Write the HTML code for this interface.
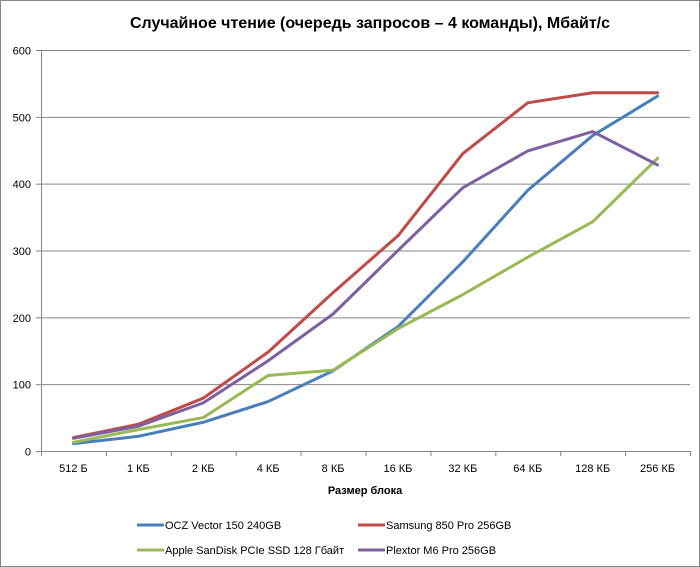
<!DOCTYPE html>
<html><head><meta charset="utf-8"><style>
body{margin:0;background:#fff;}
svg{display:block;font-family:"Liberation Sans","DejaVu Sans",sans-serif;}
</style></head><body>
<svg id="chart" width="700" height="567">
<rect x="0.5" y="0.5" width="699" height="566" fill="#fff" stroke="#868686"/>
<text x="370" y="28" text-anchor="middle" font-size="16" font-weight="bold" fill="#000">Случайное чтение (очередь запросов – 4 команды), Мбайт/с</text>
<g id="grid"></g><g id="axes"></g><g id="series"></g>
<text x="365" y="494" text-anchor="middle" font-size="11" font-weight="bold">Размер блока</text>
<g id="legend"></g>
</svg>
<script>
const categories=["512 Б","1 КБ","2 КБ","4 КБ","8 КБ","16 КБ","32 КБ","64 КБ","128 КБ","256 КБ"];
const yTicks=[0,100,200,300,400,500,600];
const ocz=[11,22,43,74,120,186,283,390,472,531];
const samsung=[20,40,79,148,237,322,445,521,536,536];
const apple=[13,32,50,113,121,183,234,290,343,438];
const plextor=[19,37,72,135,205,300,394,449,478,428];
const seriesNames=["OCZ Vector 150 240GB","Samsung 850 Pro 256GB","Apple SanDisk PCIe SSD 128 Гбайт","Plextor M6 Pro 256GB"];
const seriesColors=["#4a7ebb","#be4b48","#98b954","#7d60a0"];
const NS="http://www.w3.org/2000/svg";
const L=41,R=690,T=50,B=451,yMax=600;
const step=(R-L)/categories.length;
const xs=i=>L+step*(i+0.5);
const ys=v=>B-(v/yMax)*(B-T);
function mk(tag,attrs,parent){const e=document.createElementNS(NS,tag);for(const k in attrs)e.setAttribute(k,attrs[k]);parent.appendChild(e);return e;}
const grid=document.getElementById('grid'),axes=document.getElementById('axes'),ser=document.getElementById('series'),leg=document.getElementById('legend');
yTicks.forEach(v=>{
  const y=ys(v)+0.5;
  if(v>0){const g=mk('line',{x1:L,x2:R,y1:y,y2:y,stroke:'#868686','stroke-width':1},grid);
  
  }
  const t=mk('line',{x1:L-5,x2:L,y1:y,y2:y,stroke:'#868686'},axes);
  
  
  const tx=mk('text',{x:L-10,y:y+4,'text-anchor':'end','font-size':11},axes);
  tx.textContent=v;
  
  
});
const ya=mk('line',{x1:L+0.5,x2:L+0.5,y1:T,y2:B,stroke:'#868686'},axes);


const xa=mk('line',{x1:L,x2:R,y1:B+0.5,y2:B+0.5,stroke:'#868686'},axes);


for(let i=0;i<=categories.length;i++){
  const x=L+step*i+0.5;
  const t=mk('line',{x1:x,x2:x,y1:B,y2:B+5,stroke:'#868686'},axes);
  
  
}
categories.forEach((c,i)=>{
  const t=mk('text',{x:xs(i),y:B+21,'text-anchor':'middle','font-size':11},axes);
  t.textContent=c;
  
  
});
[ocz,samsung,apple,plextor].forEach((d,si)=>{
  const p=mk('polyline',{points:d.map((v,i)=>xs(i)+','+ys(v)).join(' '),fill:'none',stroke:seriesColors[si],'stroke-width':3,'stroke-linejoin':'round','stroke-linecap':'round'},ser);
  
  
});
const lp=[[137,525],[358,525],[137,550],[358,550]];
seriesNames.forEach((n,i)=>{
  const g=mk('g',{},leg);
  
  
  mk('line',{x1:lp[i][0],x2:lp[i][0]+27,y1:lp[i][1],y2:lp[i][1],stroke:seriesColors[i],'stroke-width':3},g);
  const t=mk('text',{x:lp[i][0]+28,y:lp[i][1]+4,'font-size':11},g);
  t.textContent=n;
});
</script>
</body></html>
